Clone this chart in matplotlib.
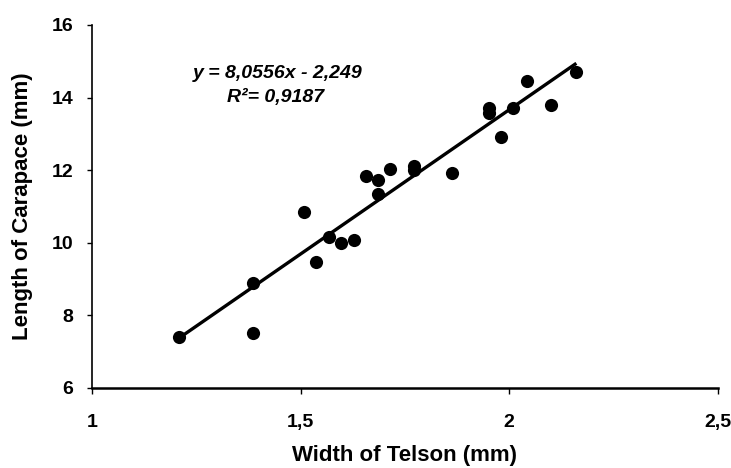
import numpy as np
import matplotlib
matplotlib.use("Agg")
import matplotlib.pyplot as plt

plt.rcParams['font.family'] = ['Liberation Sans', 'DejaVu Sans']

# Data
telson_width = [1.209, 1.387, 1.387, 1.508, 1.568, 1.537, 1.597, 1.627, 1.656, 1.685,
                1.685, 1.715, 1.773, 1.773, 1.863, 1.952, 1.952, 1.981, 2.010, 2.042,
                2.100, 2.161]
carapace_length = [7.41, 8.88, 7.51, 10.86, 10.17, 9.48, 9.99, 10.08, 11.84, 11.74,
                   11.34, 12.04, 12.12, 12.01, 11.93, 13.71, 13.58, 12.91, 13.71, 14.47,
                   13.79, 14.71]
x_ticks = [1, 1.5, 2, 2.5]
x_tick_labels = ["1", "1,5", "2", "2,5"]
y_ticks = [6, 8, 10, 12, 14, 16]
equation_text = "y = 8,0556x - 2,249"
r2_text = "R\u00b2= 0,9187"

fig = plt.figure(figsize=(7.31, 4.68), dpi=100)
ax = fig.add_axes([0.1259, 0.171, 0.856, 0.7756])

x = np.array(telson_width)
y = np.array(carapace_length)
ax.scatter(x, y, s=90, color='black', zorder=3, linewidths=0)

coef = np.polyfit(x, y, 1)
xl = np.array([x.min(), x.max()])
ax.plot(xl, np.polyval(coef, xl), color='black', lw=2.4, zorder=2, solid_capstyle='butt')

ax.set_xlim(1, 2.5)
ax.set_ylim(6, 16)
ax.set_xticks(x_ticks)
ax.set_xticklabels(x_tick_labels)
ax.set_yticks(y_ticks)

for s in ['top', 'right']:
    ax.spines[s].set_visible(False)
ax.spines['left'].set_linewidth(1.2)
ax.spines['bottom'].set_linewidth(1.8)

ax.tick_params(axis='x', direction='out', length=4.5, width=1, pad=14, labelsize=14)
ax.tick_params(axis='y', direction='out', length=3.5, width=1, pad=10, labelsize=14)
for lab in ax.get_xticklabels() + ax.get_yticklabels():
    lab.set_fontweight('bold')

ax.set_xlabel("Width of Telson (mm)", fontsize=16, fontweight='bold', labelpad=10.5)
ax.set_ylabel("Length of Carapace (mm)", fontsize=16, fontweight='bold', labelpad=13)

ax.text(1.4456, 14.65, equation_text, fontsize=14, fontweight='bold', fontstyle='italic',
        ha='center', va='center')
ax.text(1.439, 13.99, r2_text, fontsize=14, fontweight='bold', fontstyle='italic',
        ha='center', va='center')

fig.savefig("out.png", dpi=100)
